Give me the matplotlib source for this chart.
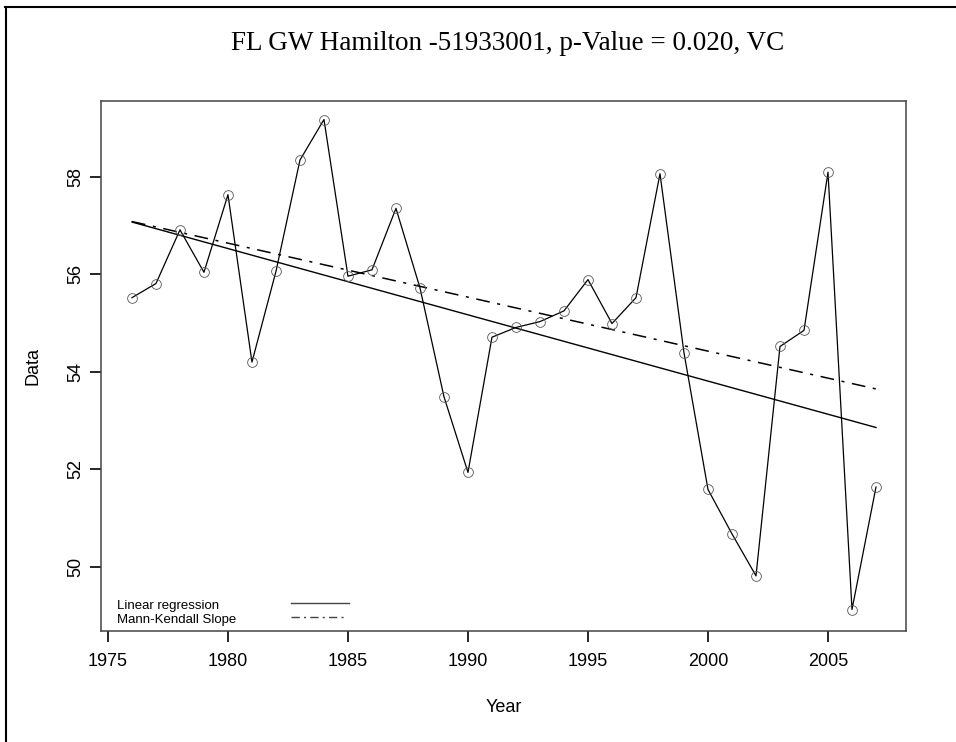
import matplotlib
matplotlib.use("Agg")
import matplotlib.pyplot as plt
from matplotlib.lines import Line2D

# ---- data ----
years = list(range(1976, 2008))
values = [55.52, 55.81, 56.91, 56.04, 57.63, 54.20, 56.06, 58.34, 59.17, 55.96,
          56.09, 57.35, 55.72, 53.49, 51.94, 54.71, 54.91, 55.03, 55.25, 55.89,
          54.99, 55.52, 58.06, 54.39, 51.59, 50.68, 49.82, 54.52, 54.85, 58.09,
          49.13, 51.64]
trend_years = [1976, 2007]
reg_values = [57.07, 52.86]
mk_values = [57.08, 53.65]
xticks = [1975, 1980, 1985, 1990, 1995, 2000, 2005]
yticks = [50, 52, 54, 56, 58]
title = "FL GW Hamilton -51933001, p-Value = 0.020, VC"
legend_labels = ["Linear regression", "Mann-Kendall Slope"]

W, H = 956, 742
fig = plt.figure(figsize=(W / 100, H / 100), dpi=100)
fig.patch.set_facecolor("white")

L, R, T, B = 101, 906, 101, 631
ax = fig.add_axes([L / W, 1 - B / H, (R - L) / W, (B - T) / H])

sans = "Liberation Sans"
serif = "Liberation Serif"

ax.plot(years, values, color="black", lw=0.9, marker="o", markersize=7,
        mfc="none", mec="#555555", mew=0.6, zorder=3)
ax.plot(trend_years, reg_values, color="black", lw=1.0, zorder=2)
ax.plot(trend_years, mk_values, color="black", lw=1.1,
        linestyle=(0, (9, 5, 2, 5)), zorder=2)

ax.set_xlim(1974.71, 2008.25)
ax.set_ylim(48.69, 59.55)
ax.set_xticks(xticks)
ax.set_yticks(yticks)
ax.set_xticklabels([str(v) for v in xticks], fontsize=13, family=sans)
ax.set_yticklabels([str(v) for v in yticks], fontsize=13, family=sans,
                   rotation=90, va="center")
ax.tick_params(axis="both", direction="out", length=8, width=1.2, color="black")
ax.tick_params(axis="x", pad=8)
ax.tick_params(axis="y", pad=4)
for s in ax.spines.values():
    s.set_color("#444444")
    s.set_linewidth(1.1)

ax.set_xlabel("Year", fontsize=13, family=sans, va="center")
ax.xaxis.set_label_coords(0.5, (B - 708) / (B - T))
ax.set_ylabel("Data", fontsize=13, family=sans, va="center")
ax.yaxis.set_label_coords((33 - L) / (R - L), 0.5)

# legend (text then handle, no frame)
def axx(px):
    return (px - L) / (R - L)

def axy(py):
    return (B - py) / (B - T)

ax.text(axx(117), axy(606), legend_labels[0], transform=ax.transAxes,
        fontsize=9.5, family=sans, va="center", ha="left")
ax.text(axx(117), axy(620), legend_labels[1], transform=ax.transAxes,
        fontsize=9.5, family=sans, va="center", ha="left")
ax.plot([axx(291), axx(349)], [axy(603), axy(603)], transform=ax.transAxes,
        color="#444444", lw=1.0, clip_on=False)
ax.plot([axx(291), axx(347)], [axy(617), axy(617)], transform=ax.transAxes,
        color="#444444", lw=1.0, linestyle=(0, (6, 3, 1.5, 3)), clip_on=False)

fig.text(508 / W, 1 - 44 / H, title, ha="center", va="center",
         fontsize=19.5, family=serif)

# outer frame (top and left edges visible)
fig.add_artist(Line2D([5.5 / W, 5.5 / W], [0, 1 - 7 / H], transform=fig.transFigure,
                      color="black", lw=1.5))
fig.add_artist(Line2D([5 / W, 1], [1 - 7 / H, 1 - 7 / H], transform=fig.transFigure,
                      color="black", lw=1.5))

fig.savefig("out.png", dpi=100)
